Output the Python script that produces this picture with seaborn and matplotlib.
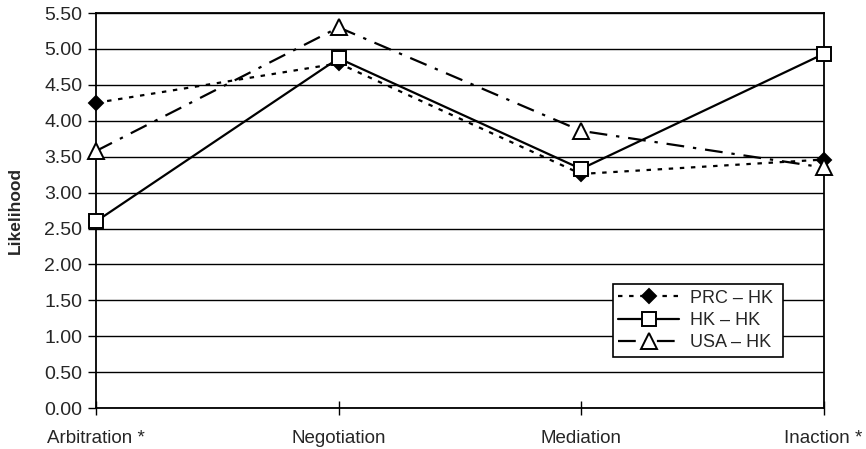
import pandas as pd
import matplotlib.pyplot as plt
import seaborn as sns

strategies = ['Arbitration *', 'Negotiation', 'Mediation', 'Inaction *']
prc_hk = [4.25, 4.80, 3.26, 3.46]
hk_hk = [2.60, 4.87, 3.33, 4.93]
usa_hk = [3.58, 5.30, 3.86, 3.35]
y_ticks = [i * 0.5 for i in range(12)]

sns.set_style("white")
plt.rcParams['font.family'] = ['Liberation Sans', 'DejaVu Sans']
plt.rcParams.update({'font.size': 13.5})

fig = plt.figure(figsize=(8.66, 4.49), dpi=100)
ax = fig.add_axes([0.111, 0.091, 0.84, 0.88])

series = [
    ('PRC – HK', prc_hk, (0, (2, 3)), 'D', 'black', 7),
    ('HK – HK', hk_hk, '-', 's', 'white', 10),
    ('USA – HK', usa_hk, (0, (8, 4, 1.5, 4)), '^', 'white', 11),
]

for name, vals, ls, mk, fc, ms in series:
    df = pd.DataFrame({'Strategy': strategies, 'Likelihood': vals})
    sns.lineplot(data=df, x='Strategy', y='Likelihood', ax=ax, color='black',
                 linestyle=ls, linewidth=1.6, marker=mk, markersize=ms,
                 markerfacecolor=fc, markeredgecolor='black', markeredgewidth=1.4,
                 label=name, zorder=3, clip_on=False)

ax.set_xlim(0, 3)
ax.set_ylim(0, 5.5)
ax.set_yticks(y_ticks)
ax.set_yticklabels([f'{v:.2f}' for v in y_ticks])
ax.grid(True, axis='y', color='black', linewidth=1)
ax.set_xlabel('')
ax.set_ylabel('Likelihood', fontweight='bold', fontsize=12.5)
ax.yaxis.set_label_coords(-0.101, 0.5)
for s in ax.spines.values():
    s.set_color('black')
    s.set_linewidth(1.3)
ax.tick_params(axis='y', direction='out', length=6, width=1, color='black',
               left=True, labelsize=14, pad=4)
ax.tick_params(axis='x', direction='inout', length=10, width=1, color='black',
               bottom=True, labelsize=13.5, pad=11)

leg = ax.legend(loc='lower left', bbox_to_anchor=(0.71, 0.13, 0.234, 0.195),
                mode='expand', frameon=True, fancybox=False, framealpha=1,
                edgecolor='black', handlelength=3.4, fontsize=13,
                borderaxespad=0, borderpad=0.3, labelspacing=0.3,
                handletextpad=0.6)
leg.get_frame().set_linewidth(1.2)

plt.savefig('out.png', dpi=100)
plt.close()
